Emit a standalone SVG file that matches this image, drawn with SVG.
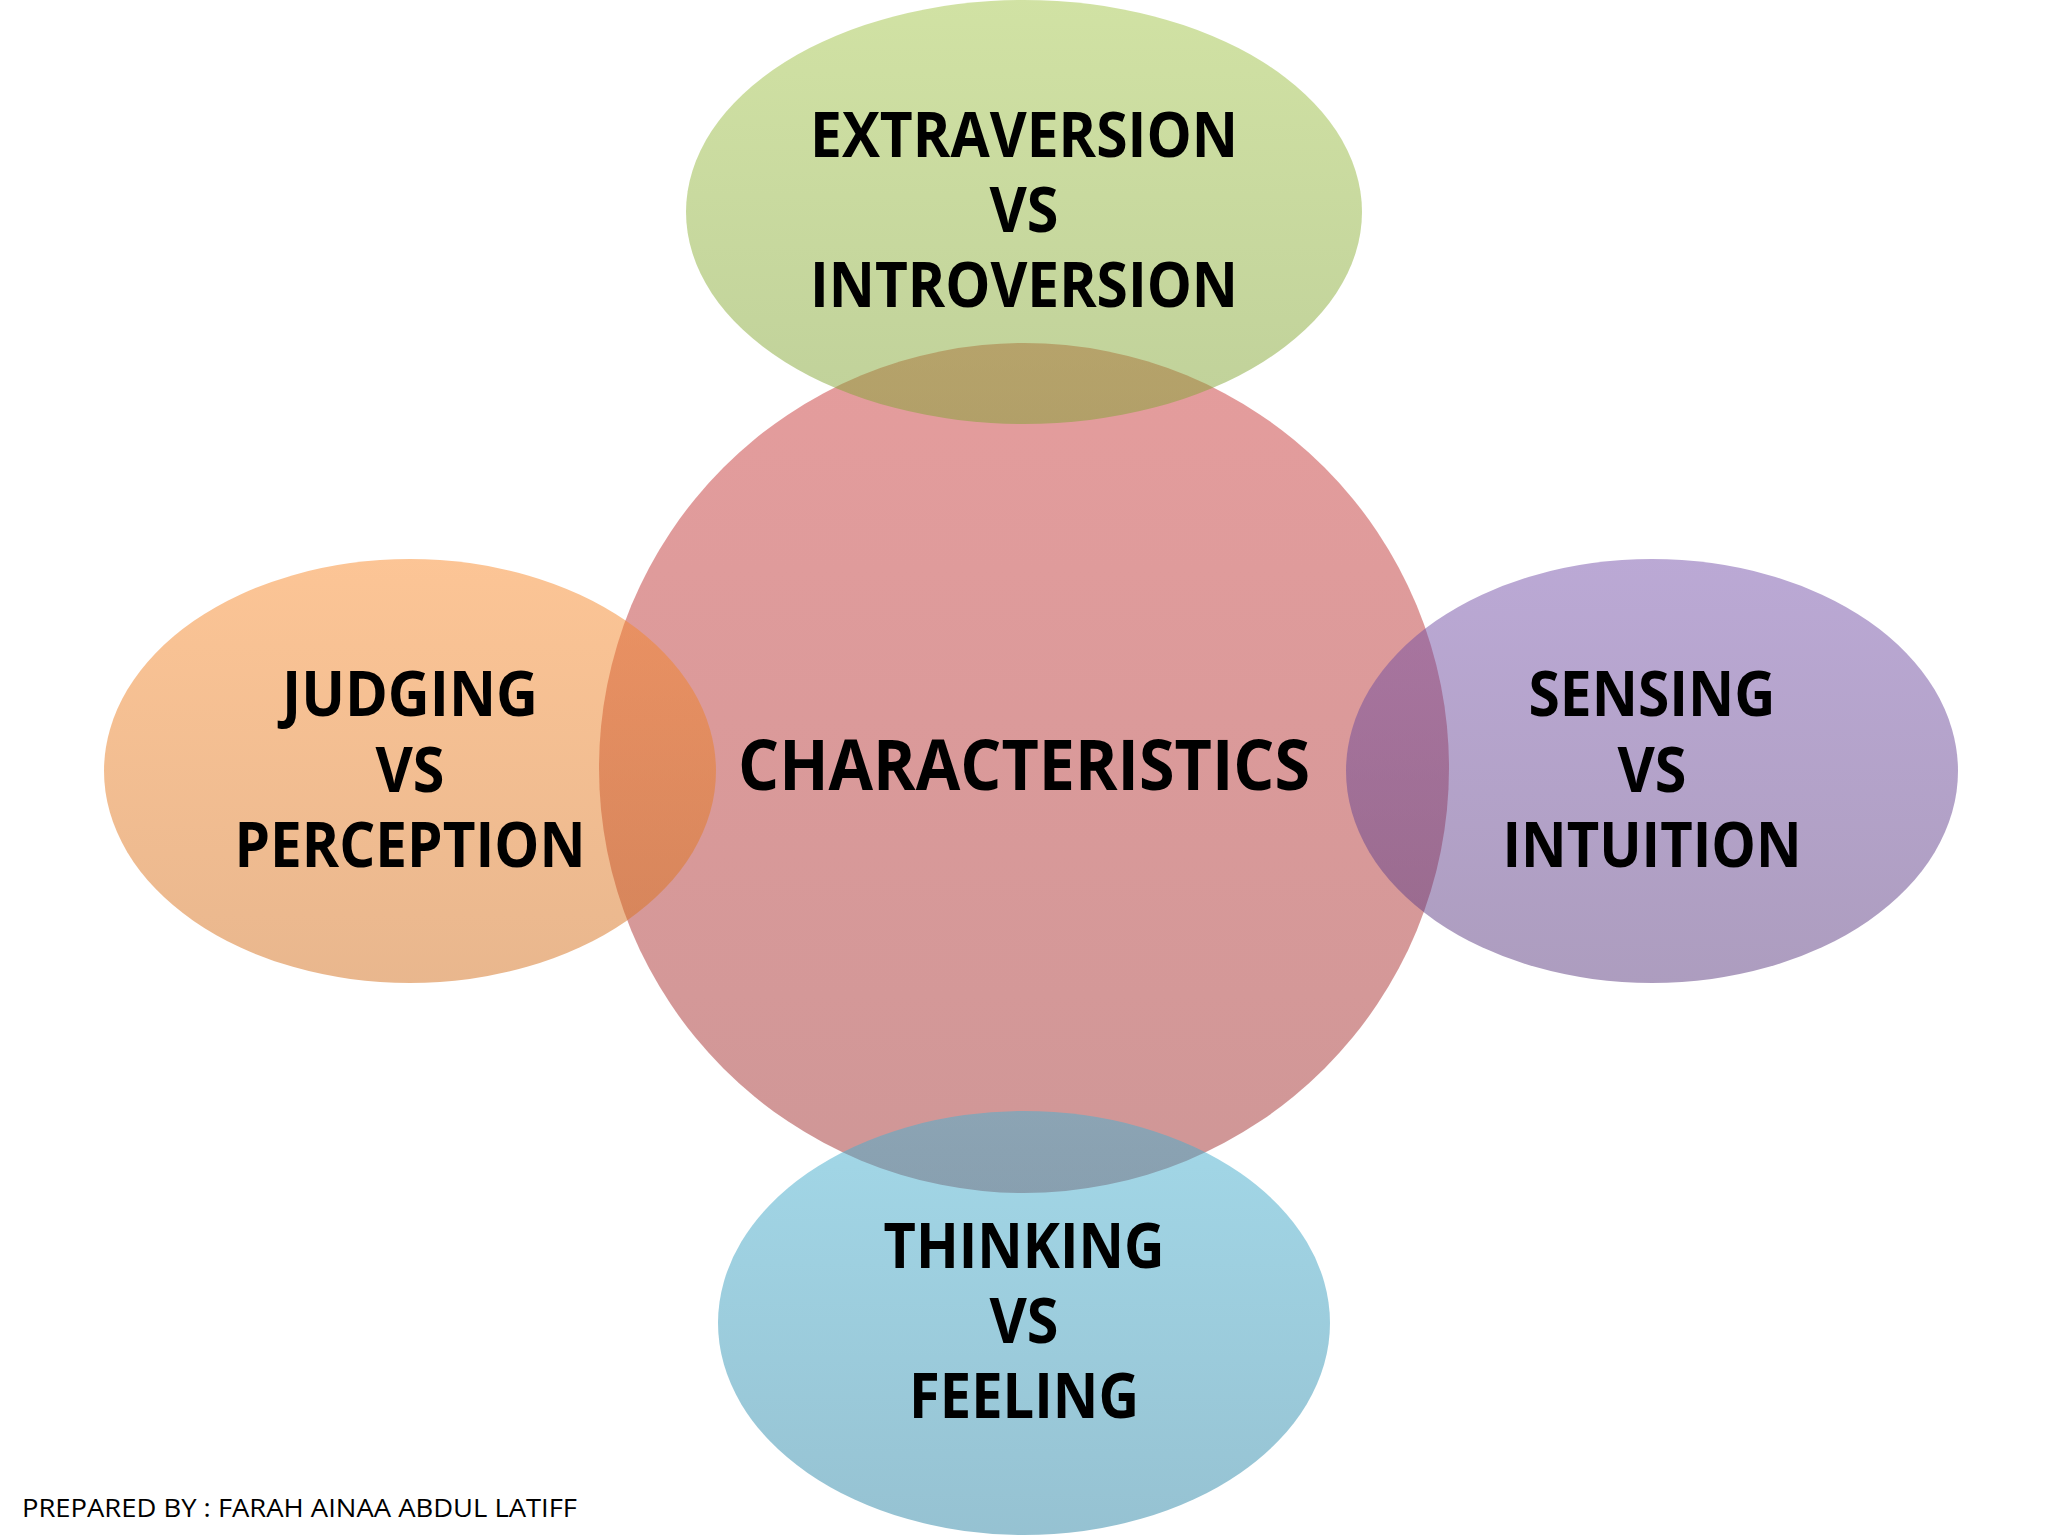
<svg xmlns="http://www.w3.org/2000/svg" width="2048" height="1536" viewBox="0 0 2048 1536">
<defs>
<linearGradient id="gPink" x1="0" y1="0" x2="0" y2="1"><stop offset="0" stop-color="#cb3b3b"/><stop offset="1" stop-color="#9f2f2f"/></linearGradient>
<linearGradient id="gGreen" x1="0" y1="0" x2="0" y2="1"><stop offset="0" stop-color="#a3c549"/><stop offset="1" stop-color="#81a335"/></linearGradient>
<linearGradient id="gOrange" x1="0" y1="0" x2="0" y2="1"><stop offset="0" stop-color="#f98b2d"/><stop offset="1" stop-color="#d36f1d"/></linearGradient>
<linearGradient id="gPurple" x1="0" y1="0" x2="0" y2="1"><stop offset="0" stop-color="#7753ab"/><stop offset="1" stop-color="#5b3b7f"/></linearGradient>
<linearGradient id="gBlue" x1="0" y1="0" x2="0" y2="1"><stop offset="0" stop-color="#47b1d1"/><stop offset="1" stop-color="#2d85a5"/></linearGradient>
</defs>
<style>
.shape{fill-opacity:0.5;}
.lbl{font-family:"Open Sans","Liberation Sans",sans-serif;font-weight:700;font-size:62px;fill:#000;text-anchor:middle;}
.big{font-size:69px;}
.foot{font-family:"Open Sans","Liberation Sans",sans-serif;font-size:25px;fill:#000;}
</style>
<rect width="2048" height="1536" fill="#ffffff"/>
<g id="connectors"></g>
<g id="center">
<circle class="shape" cx="1024" cy="768" r="425" fill="url(#gPink)"/>
<text class="lbl big" x="1024" y="790" textLength="572" lengthAdjust="spacingAndGlyphs">CHARACTERISTICS</text>
</g>
<g id="top">
<ellipse class="shape" cx="1024" cy="212" rx="338" ry="212" fill="url(#gGreen)"/>
<text class="lbl" x="1024" y="157" textLength="428" lengthAdjust="spacingAndGlyphs">EXTRAVERSION</text>
<text class="lbl" x="1024" y="232" textLength="69" lengthAdjust="spacingAndGlyphs">VS</text>
<text class="lbl" x="1024" y="307" textLength="428" lengthAdjust="spacingAndGlyphs">INTROVERSION</text>
</g>
<g id="left">
<ellipse class="shape" cx="410" cy="771" rx="306" ry="212" fill="url(#gOrange)"/>
<text class="lbl" x="410" y="716" textLength="256" lengthAdjust="spacingAndGlyphs">JUDGING</text>
<text class="lbl" x="410" y="792" textLength="69" lengthAdjust="spacingAndGlyphs">VS</text>
<text class="lbl" x="410" y="867" textLength="351" lengthAdjust="spacingAndGlyphs">PERCEPTION</text>
</g>
<g id="right">
<ellipse class="shape" cx="1652" cy="771" rx="306" ry="212" fill="url(#gPurple)"/>
<text class="lbl" x="1652" y="716" textLength="247" lengthAdjust="spacingAndGlyphs">SENSING</text>
<text class="lbl" x="1652" y="792" textLength="69" lengthAdjust="spacingAndGlyphs">VS</text>
<text class="lbl" x="1652" y="867" textLength="299" lengthAdjust="spacingAndGlyphs">INTUITION</text>
</g>
<g id="bottom">
<ellipse class="shape" cx="1024" cy="1323" rx="306" ry="212" fill="url(#gBlue)"/>
<text class="lbl" x="1024" y="1268" textLength="281" lengthAdjust="spacingAndGlyphs">THINKING</text>
<text class="lbl" x="1024" y="1343" textLength="69" lengthAdjust="spacingAndGlyphs">VS</text>
<text class="lbl" x="1024" y="1418" textLength="230" lengthAdjust="spacingAndGlyphs">FEELING</text>
</g>
<text class="foot" x="22" y="1517" textLength="555" lengthAdjust="spacingAndGlyphs">PREPARED BY : FARAH AINAA ABDUL LATIFF</text>
</svg>
